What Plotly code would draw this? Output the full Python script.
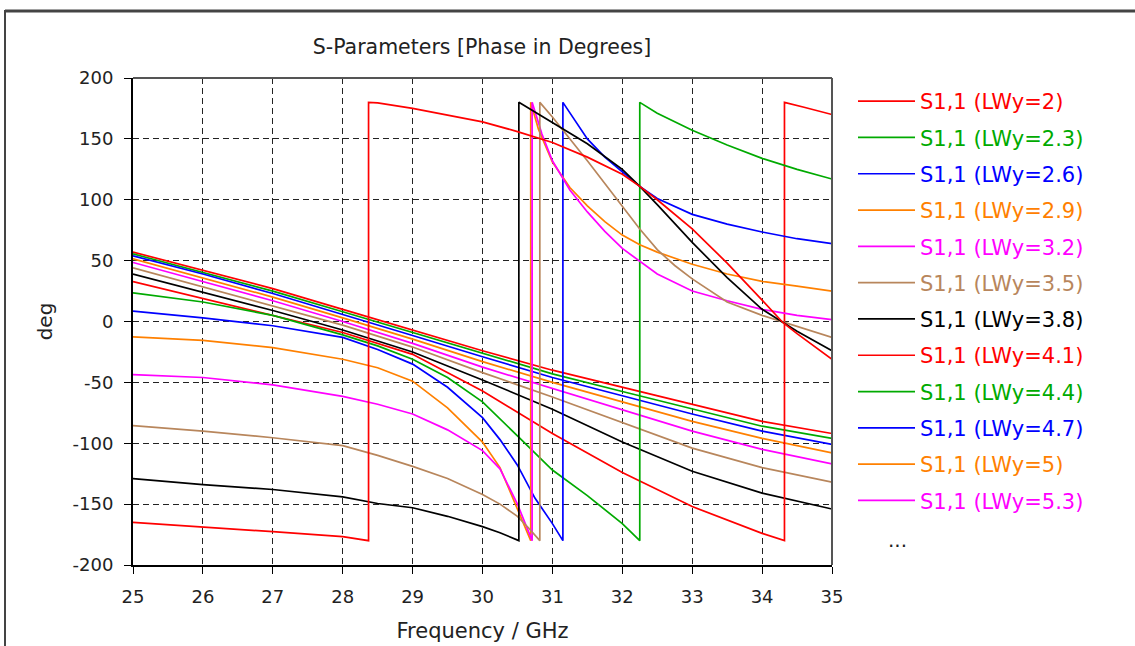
import plotly.graph_objects as go

# ---------------- data ----------------
lwy_values = [2, 2.3, 2.6, 2.9, 3.2, 3.5, 3.8, 4.1, 4.4, 4.7, 5, 5.3, 5.6, 5.9, 6.2]
series_colors = ["#FF0000", "#00AA00", "#0000FF", "#FF8000", "#FF00FF", "#B8865C", "#000000"]
legend_count = 12

x_ticks = [25, 26, 27, 28, 29, 30, 31, 32, 33, 34, 35]
y_ticks = [-200, -150, -100, -50, 0, 50, 100, 150, 200]

# upper bundle (no phase wrap in band) shares one frequency grid
f_upper = [25, 26, 27, 28, 29, 30, 31, 32, 33, 34, 35]
p_2_0 = [57, 42, 27, 10, -7, -24, -40, -54, -68, -82, -92]
p_2_3 = [55.5, 40.5, 25, 8, -9, -26.5, -43, -57.5, -72, -86, -96]
p_2_6 = [54, 39, 23, 6, -11.5, -29, -46, -61, -76, -90, -101]
p_2_9 = [51.5, 36, 20, 3, -14.5, -33, -50, -66, -82, -96, -108]
p_3_2 = [48.5, 33, 17, 0, -18, -37.5, -55, -73, -90, -105, -117]
p_3_5 = [44, 28.5, 13, -3, -21, -42, -62, -83, -104, -120, -132]
p_3_8 = [39, 24, 9, -7, -25, -48, -72, -99, -123, -141, -154]

# series with a -180/+180 phase wrap inside the band
f_4_1 = [25, 26, 27, 28, 29, 30, 31, 32, 33, 34, 34.32, 34.32, 34.6, 35]
p_4_1 = [32.7, 19, 5, -9, -27, -57, -92, -124, -152, -174, -180, 180, 176, 170]

f_4_4 = [25, 26, 27, 28, 28.5, 29, 29.5, 30, 30.5, 31, 31.5, 32, 32.25, 32.25, 32.5, 33, 33.5, 34, 34.5, 35]
p_4_4 = [23.6, 16, 5, -11, -20, -31, -46, -66, -94, -122, -143, -166, -180, 180, 171, 157, 145, 134, 125, 117]

f_4_7 = [25, 26, 27, 28, 28.5, 29, 29.5, 30, 30.25, 30.5, 30.75, 31, 31.15, 31.15, 31.5, 31.75, 32, 32.25, 32.5, 33, 33.5, 34, 34.5, 35]
p_4_7 = [8.5, 3, -3.5, -13, -23, -35, -54, -79, -97, -118, -145, -166, -180, 180, 150, 135, 123, 111, 101, 88, 80, 73.5, 68, 64]

f_5_0 = [25, 26, 27, 28, 28.5, 29, 29.5, 30, 30.25, 30.5, 30.69, 30.69, 30.8, 31, 31.25, 31.5, 31.75, 32, 32.25, 32.5, 33, 33.5, 34, 34.5, 35]
p_5_0 = [-12.6, -15.5, -21.5, -31, -38, -49, -71, -99, -120, -155, -180, 180, 158, 131, 110, 95, 82, 71, 63, 57, 47, 39, 33, 29, 25]

f_5_3 = [25, 26, 27, 28, 28.5, 29, 29.5, 30, 30.25, 30.5, 30.71, 30.71, 30.85, 31, 31.25, 31.5, 31.75, 32, 32.5, 33, 33.5, 34, 34.5, 35]
p_5_3 = [-43.6, -46, -52, -61.5, -68, -76, -89, -106, -121, -150, -180, 180, 154, 132, 108, 90, 74, 60, 39, 25, 17, 10, 5, 1.5]

f_5_6 = [25, 26, 27, 28, 28.5, 29, 29.5, 30, 30.25, 30.5, 30.65, 30.82, 30.82, 31, 31.5, 32, 32.25, 32.5, 32.75, 33, 33.5, 34, 34.5, 35]
p_5_6 = [-85.6, -90, -95.5, -102, -110, -119, -129, -142, -150, -160, -169, -180, 180, 168, 132, 95, 76, 59, 46, 35, 16, 5, -4, -13]

f_5_9 = [25, 26, 27, 28, 28.5, 29, 29.5, 30, 30.25, 30.52, 30.52, 31, 31.5, 32, 32.25, 32.5, 33, 33.5, 34, 34.5, 35]
p_5_9 = [-129, -134, -138, -144, -149.5, -153, -160, -168.5, -173.5, -180, 180, 163, 146, 125, 111, 96, 65, 36, 10, -8, -24]

f_6_2 = [25, 26, 27, 28, 28.37, 28.37, 28.5, 29, 30, 30.5, 31, 31.5, 32, 32.25, 32.5, 33, 33.5, 34, 34.3, 34.5, 35]
p_6_2 = [-165, -168.5, -172.6, -176.7, -180, 180, 179.5, 175, 164, 156, 147, 135, 121, 111, 100, 76, 48, 17.5, -1, -10, -31]

series_freqs = [f_upper] * 7 + [f_4_1, f_4_4, f_4_7, f_5_0, f_5_3, f_5_6, f_5_9, f_6_2]
series_phases = [p_2_0, p_2_3, p_2_6, p_2_9, p_3_2, p_3_5, p_3_8,
                 p_4_1, p_4_4, p_4_7, p_5_0, p_5_3, p_5_6, p_5_9, p_6_2]

# ---------------- figure ----------------
FONT = "DejaVu Sans"
fig = go.Figure()
for i, (lw, fx, py) in enumerate(zip(lwy_values, series_freqs, series_phases)):
    col = series_colors[i % len(series_colors)]
    label = f"S1,1 (LWy={lw:g})"
    fig.add_trace(go.Scatter(
        x=fx, y=py, mode="lines",
        line=dict(color=col, width=1.7),
        name=f'<span style="color:{col}">{label}</span>',
        legendgroup=f"g{i}",
        showlegend=i < legend_count,
        hoverinfo="skip",
    ))

W, H = 1135, 646
L, R, T, B = 133, 303, 78, 81
pw, ph = W - L - R, H - T - B


def px_x(p):
    return (p - L) / pw


def px_y(p):
    return (H - B - p) / ph


fig.update_layout(
    width=W, height=H,
    margin=dict(l=L, r=R, t=T, b=B, pad=0, autoexpand=False),
    paper_bgcolor="white", plot_bgcolor="white",
    font=dict(family=FONT, size=18, color="#222"),
    title=dict(text="S-Parameters [Phase in Degrees]", x=(482 / W), xanchor="center",
               xref="container", y=1 - 47 / H, yref="container", yanchor="middle",
               font=dict(family=FONT, size=20.5, color="#222")),
    showlegend=True,
    legend=dict(x=px_x(853), xanchor="left", y=px_y(81), yanchor="top",
                font=dict(family=FONT, size=21), bgcolor="rgba(0,0,0,0)",
                tracegroupgap=6, itemwidth=57, traceorder="grouped"),
    xaxis=dict(range=[25, 35], tickvals=x_ticks, ticktext=[str(v) for v in x_ticks],
               showgrid=True, gridcolor="#222", griddash="6px,4px", gridwidth=1.3,
               showline=True, linecolor="black", linewidth=2, ticks="outside",
               ticklen=7, tickcolor="black", zeroline=False, ticklabelstandoff=7,
               automargin=False,
               title=dict(text="Frequency / GHz", font=dict(size=21), standoff=18),
               tickfont=dict(size=18)),
    yaxis=dict(range=[-200, 200], tickvals=y_ticks, ticktext=[str(v) for v in y_ticks],
               showgrid=True, gridcolor="#222", griddash="6px,4px", gridwidth=1.3,
               showline=True, linecolor="black", linewidth=2, ticks="outside",
               ticklen=7, tickcolor="black", zeroline=False, ticklabelstandoff=7,
               automargin=False,
               title=dict(text="deg", font=dict(size=20), standoff=15),
               tickfont=dict(size=18)),
)

# plot frame (top / right) and outer window frame
fig.add_shape(type="line", xref="paper", yref="paper", x0=0, x1=1, y0=1, y1=1,
              line=dict(color="#555", width=2))
fig.add_shape(type="line", xref="paper", yref="paper", x0=1, x1=1, y0=0, y1=1,
              line=dict(color="#555", width=2))
fig.add_shape(type="line", xref="paper", yref="paper", x0=px_x(5), x1=px_x(1135),
              y0=px_y(11), y1=px_y(11), line=dict(color="#444", width=3))
fig.add_shape(type="line", xref="paper", yref="paper", x0=px_x(5), x1=px_x(5),
              y0=px_y(10), y1=px_y(646), line=dict(color="#444", width=2))

fig.add_annotation(text="...", x=px_x(897), y=px_y(540), xref="paper", yref="paper",
                   xanchor="center", yanchor="middle",
                   showarrow=False, font=dict(family=FONT, size=20, color="#222"))

fig.write_html("out.html")
